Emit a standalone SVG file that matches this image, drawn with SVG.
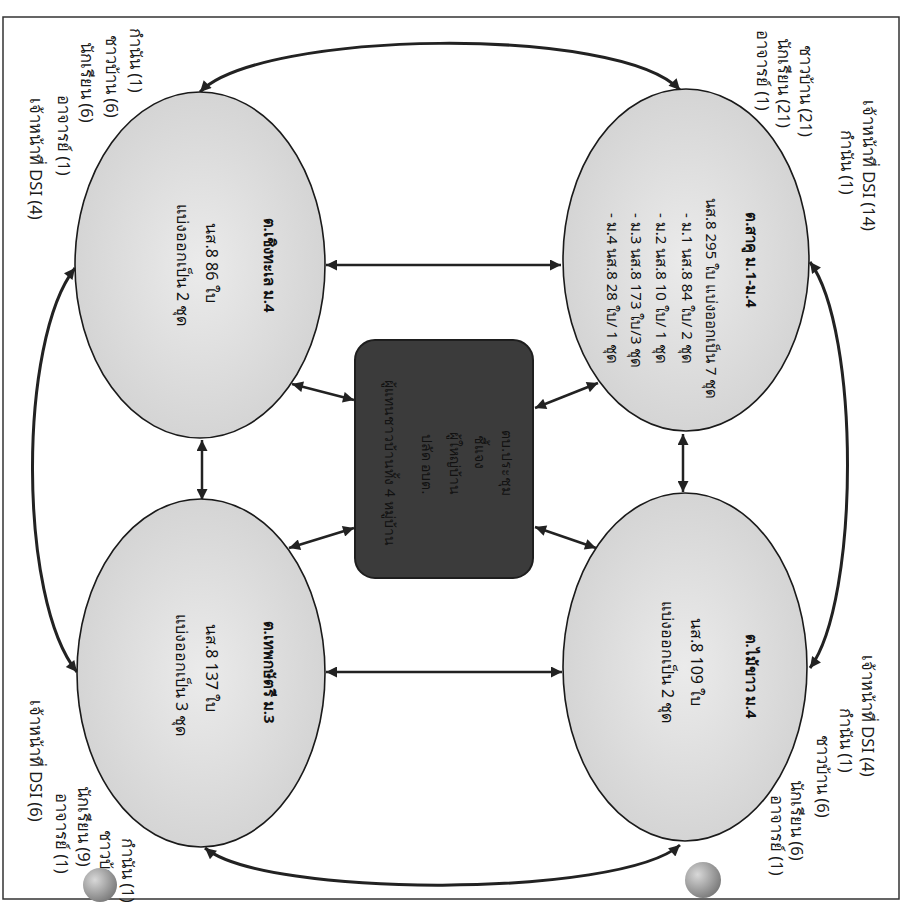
<svg xmlns="http://www.w3.org/2000/svg" width="903" height="904" viewBox="0 0 903 904">
<defs>
<radialGradient id="eg" cx="50%" cy="50%" r="60%">
<stop offset="0" stop-color="#ebebeb"/>
<stop offset="1" stop-color="#d0d0d0"/>
</radialGradient>
<radialGradient id="sg" cx="35%" cy="35%" r="70%">
<stop offset="0" stop-color="#d8d8d8"/>
<stop offset="1" stop-color="#7a7a7a"/>
</radialGradient>
<marker id="ah" viewBox="0 0 10 10" refX="10" refY="5" markerWidth="13" markerHeight="11" markerUnits="userSpaceOnUse" orient="auto-start-reverse">
<path d="M0,0 L10,5 L0,10 z" fill="#222"/>
</marker>
<style>
.ell{fill:url(#eg);stroke:#1a1a1a;stroke-width:1.6}
.t{font-family:'Noto Sans','DejaVu Sans',sans-serif;font-size:15px;fill:#111;dominant-baseline:central}
.b{font-weight:bold}
.m{text-anchor:middle}
.lb{font-family:'Noto Sans','DejaVu Sans',sans-serif;font-size:16.5px;fill:#1a1a1a;dominant-baseline:central}
.ct{font-family:'Noto Sans','DejaVu Sans',sans-serif;font-size:14px;fill:#111;dominant-baseline:central;text-anchor:middle}
.c{fill:none;stroke:#222;stroke-width:3;marker-start:url(#ah);marker-end:url(#ah)}
.s{fill:none;stroke:#222;stroke-width:2.5;marker-start:url(#ah);marker-end:url(#ah)}
</style>
</defs>
<rect width="903" height="904" fill="#fff"/>
<rect x="3" y="17" width="896" height="882" fill="none" stroke="#333" stroke-width="1.5"/>

<g id="connectors">
<path class="c" d="M200,92 C260,30 620,25 680,90"/>
<path class="c" d="M205,848 C265,898 620,898 680,845"/>
<path class="c" d="M810,262 C860,330 860,600 810,668"/>
<path class="c" d="M75,268 C18,340 18,600 77,672"/>
<path class="s" d="M683,434 L683,492"/>
<path class="s" d="M202,440 L202,500"/>
<path class="s" d="M326,265 L561,265"/>
<path class="s" d="M326,672 L562,672"/>
<path class="s" d="M292,384 L354,400"/>
<path class="s" d="M289,548 L354,528"/>
<path class="s" d="M535,408 L598,383"/>
<path class="s" d="M535,527 L596,548"/>
</g>

<g id="node-sakhu">
<ellipse class="ell" cx="686" cy="260" rx="123" ry="171"/>
<text class="t b m" transform="translate(752,260) rotate(90)">ต.สาคู ม.1-ม.4</text>
<text class="t" transform="translate(712,198) rotate(90)">นส.8 295 ใบ แบ่งออกเป็น 7 ชุด</text>
<text class="t" transform="translate(688,213) rotate(90)">- ม.1 นส.8 84 ใบ/ 2 ชุด</text>
<text class="t" transform="translate(662,213) rotate(90)">- ม.2 นส.8 10 ใบ/ 1 ชุด</text>
<text class="t" transform="translate(637,213) rotate(90)">- ม.3 นส.8 173 ใบ/3 ชุด</text>
<text class="t" transform="translate(613,213) rotate(90)">- ม.4 นส.8 28 ใบ/ 1 ชุด</text>
</g>

<g id="node-maikhao">
<ellipse class="ell" cx="685" cy="667" rx="122" ry="174"/>
<text class="t b m" transform="translate(752,676) rotate(90)">ต.ไม้ขาว ม.4</text>
<text class="t m" style="font-size:16px" transform="translate(697,662) rotate(90)">นส.8 109 ใบ</text>
<text class="t m" style="font-size:16px" transform="translate(668,662) rotate(90)">แบ่งออกเป็น 2 ชุด</text>
</g>

<g id="node-choengthale">
<ellipse class="ell" cx="200" cy="265" rx="125" ry="173"/>
<text class="t b m" transform="translate(270,265) rotate(90)">ต.เชิงทะเล ม.4</text>
<text class="t m" style="font-size:16px" transform="translate(212,263) rotate(90)">นส.8 86 ใบ</text>
<text class="t m" style="font-size:16px" transform="translate(183,265) rotate(90)">แบ่งออกเป็น 2 ชุด</text>
</g>

<g id="node-thepkrasattri">
<ellipse class="ell" cx="201" cy="673" rx="124" ry="174"/>
<text class="t b m" transform="translate(270,672) rotate(90)">ต.เทพกษัตรี ม.3</text>
<text class="t m" style="font-size:16px" transform="translate(212,668) rotate(90)">นส.8 137 ใบ</text>
<text class="t m" style="font-size:16px" transform="translate(182,675) rotate(90)">แบ่งออกเป็น 3 ชุด</text>
</g>

<g id="node-center">
<rect x="355" y="340" width="178" height="238" rx="20" fill="#3b3b3b" stroke="#1e1e1e" stroke-width="2"/>
<text class="ct" transform="translate(507,463) rotate(90)">ตบ.ประชุม</text>
<text class="ct" transform="translate(480,452) rotate(90)">ชี้แจง</text>
<text class="ct" transform="translate(455,463) rotate(90)">ผู้ใหญ่บ้าน</text>
<text class="ct" transform="translate(427,464) rotate(90)">ปลัด อบต.</text>
<text class="ct" transform="translate(390,463) rotate(90)">ผู้แทนชาวบ้านทั้ง 4 หมู่บ้าน</text>
</g>

<g id="labels-sakhu">
<text class="lb" transform="translate(869,100) rotate(90)">เจ้าหน้าที่ DSI (14)</text>
<text class="lb" transform="translate(847,130) rotate(90)">กำนัน (1)</text>
<text class="lb" transform="translate(806,45) rotate(90)">ชาวบ้าน  (21)</text>
<text class="lb" transform="translate(784,38) rotate(90)">นักเรียน (21)</text>
<text class="lb" transform="translate(763,30) rotate(90)">อาจารย์ (1)</text>
</g>

<g id="labels-maikhao">
<text class="lb" transform="translate(868,655) rotate(90)">เจ้าหน้าที่ DSI (4)</text>
<text class="lb" transform="translate(846,708) rotate(90)">กำนัน (1)</text>
<text class="lb" transform="translate(823,735) rotate(90)">ชาวบ้าน (6)</text>
<text class="lb" transform="translate(797,780) rotate(90)">นักเรียน (6)</text>
<text class="lb" transform="translate(777,795) rotate(90)">อาจารย์ (1)</text>
</g>

<g id="labels-choengthale">
<text class="lb" transform="translate(136,28) rotate(90)">กำนัน (1)</text>
<text class="lb" transform="translate(112,35) rotate(90)">ชาวบ้าน (6)</text>
<text class="lb" transform="translate(87,42) rotate(90)">นักเรียน (6)</text>
<text class="lb" transform="translate(64,95) rotate(90)">อาจารย์ (1)</text>
<text class="lb" transform="translate(36,98) rotate(90)">เจ้าหน้าที่ DSI (4)</text>
</g>

<g id="labels-thepkrasattri">
<text class="lb" transform="translate(128,838) rotate(90)">กำนัน (1)</text>
<text class="lb" transform="translate(106,830) rotate(90)">ชาวบ้าน</text>
<text class="lb" transform="translate(84,786) rotate(90)">นักเรียน (9)</text>
<text class="lb" transform="translate(62,793) rotate(90)">อาจารย์ (1)</text>
<text class="lb" transform="translate(36,700) rotate(90)">เจ้าหน้าที่ DSI (6)</text>
</g>

<g id="spheres">
<circle cx="703" cy="880" r="18" fill="url(#sg)"/>
<circle cx="100" cy="885" r="17" fill="url(#sg)"/>
</g>
</svg>
